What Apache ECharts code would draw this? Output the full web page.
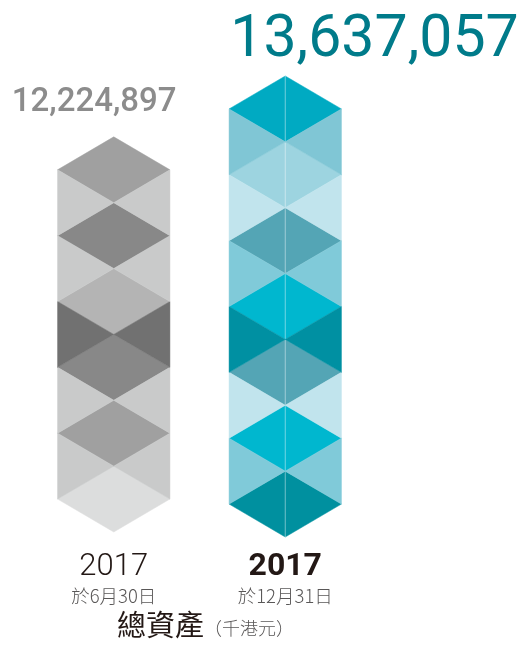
<html>
  <head>
    <meta charset="utf-8" />
    <title>總資產</title>
    <style>
      body {
        margin: 0;
        padding: 0;
        background: #fff;
      }
      #chart {
        position: absolute;
        top: 0;
        left: 0;
        width: 522px;
        height: 646px;
      }
    </style>
  </head>
  <body>
    <div id="chart"></div>
    <script src="https://cdn.jsdelivr.net/npm/echarts@6/dist/echarts.min.js"></script>
    <script type="text/javascript">
      var dates = ['於6月30日', '於12月31日'];
      var years = ['2017', '2017'];
      var totals = [12224897, 13637057];
      var tiers = [6, 7]; // diamonds stacked in each column

      // colours, bottom to top
      var diamondColors = [
        ['#dcdddd', '#a0a0a0', '#888888', '#b4b4b4', '#888888', '#a0a0a0'],
        ['#00909f', '#00b7cf', '#54a5b5', '#00b7cf', '#54a5b5', '#9dd4e0', '#00aac2']
      ];
      var sideColors = [
        ['#c9caca', '#c9caca', '#717171', '#c9caca', '#c9caca'],
        ['#80cad9', '#c1e4ed', '#0090a2', '#80cad9', '#c1e4ed', '#80c6d5']
      ];
      var shift = [-5, 0]; // grey column sits a bit higher
      var labelStyles = [
        { size: 33, weight: 500, color: '#8c8c8c', dx: -102, dy: -34 },
        { size: 59, weight: 400, color: '#007b8a', dx: -55, dy: -35 }
      ];

      var tiles = [];
      tiers.forEach(function (n, col) {
        for (var k = 0; k < n; k++) tiles.push([col, k, 0]);
        for (var j = 1; j < n; j++) tiles.push([col, j, 1]);
      });

      function poly(points, fill) {
        return {
          type: 'polygon',
          shape: { points: points },
          style: { fill: fill, stroke: fill, lineWidth: 0.5 }
        };
      }

      function renderTile(params, api) {
        var col = api.value(0),
          lv = api.value(1),
          kind = api.value(2);
        var w = (api.size([1, 0])[0] * 0.655) / 2;
        var p0 = api.coord([col, lv]);
        var dy = p0[1] - api.coord([col, lv + 0.5])[1];
        var x = p0[0],
          y = p0[1] + shift[col];
        var fill;
        if (kind === 0) {
          fill = diamondColors[col][lv];
          var children = [poly([[x, y], [x + w, y - dy], [x, y - 2 * dy], [x - w, y - dy]], fill)];
          if (col === 1) {
            children.push({
              type: 'line',
              shape: { x1: x, y1: y, x2: x, y2: y - 2 * dy },
              style: { stroke: 'rgba(255,255,255,0.45)', lineWidth: 1 }
            });
          }
          return { type: 'group', children: children };
        }
        fill = sideColors[col][lv - 1];
        return {
          type: 'group',
          children: [
            poly([[x - w, y + dy], [x, y], [x - w, y - dy]], fill),
            poly([[x + w, y + dy], [x, y], [x + w, y - dy]], fill)
          ]
        };
      }

      function renderLabel(params, api) {
        var col = api.value(0);
        var s = labelStyles[col];
        var p = api.coord([col, api.value(1)]);
        return {
          type: 'text',
          x: p[0] + s.dx,
          y: p[1] + shift[col] + s.dy,
          style: {
            text: api.value(2).toLocaleString('en-US'),
            fill: s.color,
            font: s.weight + ' ' + s.size + 'px Roboto',
            align: 'left',
            verticalAlign: 'middle'
          }
        };
      }

      var chart = echarts.init(document.getElementById('chart'));
      chart.setOption({
        animation: false,
        backgroundColor: '#fff',
        title: {
          text: '{a|總資產}{b|（千港元）}',
          left: 112,
          top: 605,
          textStyle: {
            rich: {
              a: { fontFamily: 'Noto Sans CJK TC', fontSize: 29, color: '#231815', fontWeight: 400 },
              b: {
                fontFamily: 'Noto Sans CJK TC',
                fontSize: 18,
                fontWeight: 300,
                color: '#595757',
                padding: [8, 0, 0, 0]
              }
            }
          }
        },
        grid: { left: 28, right: 151, top: 76, bottom: 109 },
        xAxis: {
          type: 'category',
          data: dates,
          axisLine: { show: false },
          axisTick: { show: false },
          axisLabel: {
            margin: 12,
            formatter: function (v, i) {
              return (i === 1 ? '{yb|' : '{y|') + years[i] + '}\n{d|' + v + '}';
            },
            rich: {
              y: { fontFamily: 'Roboto', fontWeight: 300, fontSize: 31, color: '#231815', lineHeight: 36 },
              yb: { fontFamily: 'Roboto', fontWeight: 700, fontSize: 32, color: '#231815', lineHeight: 36 },
              d: { fontFamily: 'Noto Sans CJK TC', fontSize: 18.5, fontWeight: 300, color: '#595757', lineHeight: 22 }
            }
          }
        },
        yAxis: { type: 'value', min: 0, max: 7, show: false },
        series: [
          { type: 'custom', renderItem: renderTile, data: tiles, silent: true },
          {
            type: 'custom',
            renderItem: renderLabel,
            data: totals.map(function (v, i) {
              return [i, tiers[i], v];
            }),
            silent: true
          }
        ]
      });
    </script>
  </body>
</html>
